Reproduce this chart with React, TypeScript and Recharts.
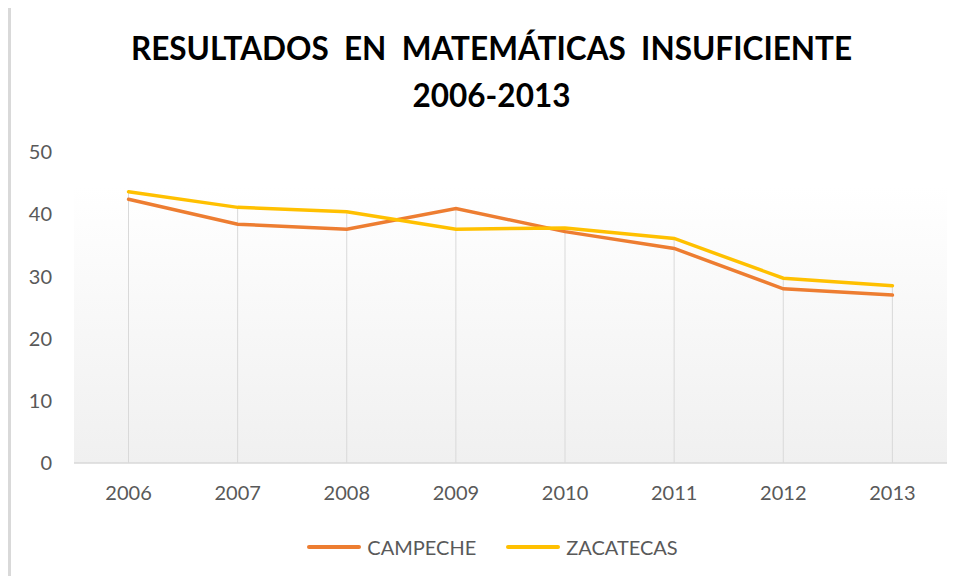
import {
  ComposedChart,
  Line,
  Bar,
  XAxis,
  YAxis,
  ReferenceArea,
} from "recharts";

// datos
const years = ["2006", "2007", "2008", "2009", "2010", "2011", "2012", "2013"];
const campeche = [42.4, 38.4, 37.6, 40.9, 37.2, 34.5, 28.0, 27.0];
const zacatecas = [43.6, 41.1, 40.4, 37.6, 37.8, 36.1, 29.7, 28.5];
const yTicks = [0, 10, 20, 30, 40, 50];

const series = [
  { key: "campeche", name: "CAMPECHE", color: "#ED7D31" },
  { key: "zacatecas", name: "ZACATECAS", color: "#FFC000" },
];

// tope del fondo degradado del área de trazado
const BG_TOP = 44.4;

const data = years.map((year, i) => ({
  year,
  campeche: campeche[i],
  zacatecas: zacatecas[i],
  // línea de caída desde el valor más alto hasta el eje
  drop: Math.max(campeche[i], zacatecas[i]),
}));

const FONT = "Lato, 'Noto Sans', sans-serif";
const GREY = "#595959";

export default function App() {
  return (
    <div
      style={{
        position: "relative",
        width: 965,
        height: 584,
        margin: -8,
        background: "#fff",
        fontFamily: FONT,
        overflow: "hidden",
      }}
    >
      <div
        style={{
          position: "absolute",
          left: 8,
          top: 4,
          right: 0,
          bottom: 0,
          borderTop: "3px solid #d9d9d9",
          borderLeft: "3px solid #d9d9d9",
        }}
      />
      <div
        style={{
          position: "absolute",
          top: 25,
          left: 0,
          width: 983,
          textAlign: "center",
          fontWeight: 700,
          fontSize: 31.5,
          lineHeight: "47px",
          color: "#000",
          whiteSpace: "pre",
        }}
      >
        {"RESULTADOS  EN  MATEMÁTICAS  INSUFICIENTE"}
        <br />
        {"2006-2013"}
      </div>

      <ComposedChart
        width={965}
        height={584}
        data={data}
        margin={{ top: 152, right: 18, left: 24, bottom: 81 }}
      >
        <defs>
          <linearGradient id="plotBg" x1="0" y1="0" x2="0" y2="1">
            <stop offset="0%" stopColor="#ffffff" />
            <stop offset="100%" stopColor="#f0f0f0" />
          </linearGradient>
        </defs>
        <XAxis
          dataKey="year"
          height={40}
          axisLine={{ stroke: "#d9d9d9", strokeWidth: 1.5 }}
          tickLine={false}
          tickMargin={17}
          tick={{ fill: GREY, fontSize: 20, fontFamily: FONT }}
        />
        <YAxis
          domain={[0, 50]}
          ticks={yTicks}
          width={50}
          axisLine={false}
          tickLine={false}
          tickMargin={16}
          tick={{ fill: GREY, fontSize: 20, fontFamily: FONT }}
        />
        <ReferenceArea
          y1={0}
          y2={BG_TOP}
          fill="url(#plotBg)"
          fillOpacity={1}
          stroke="none"
          ifOverflow="visible"
        />
        <Bar dataKey="drop" barSize={1} fill="#d9d9d9" isAnimationActive={false} />
        {series.map((s) => (
          <Line
            key={s.key}
            type="linear"
            dataKey={s.key}
            name={s.name}
            stroke={s.color}
            strokeWidth={3.5}
            strokeLinecap="round"
            dot={false}
            activeDot={false}
            isAnimationActive={false}
          />
        ))}
      </ComposedChart>

      <div
        style={{
          position: "absolute",
          top: 535,
          left: 0,
          width: 985,
          display: "flex",
          justifyContent: "center",
          gap: 30,
          fontSize: 20,
          color: GREY,
        }}
      >
        {series.map((s) => (
          <div key={s.key} style={{ display: "flex", alignItems: "center" }}>
            <span
              style={{
                display: "inline-block",
                width: 54,
                height: 3.5,
                borderRadius: 2,
                background: s.color,
                marginRight: 6,
              }}
            />
            <span>{s.name}</span>
          </div>
        ))}
      </div>
    </div>
  );
}
